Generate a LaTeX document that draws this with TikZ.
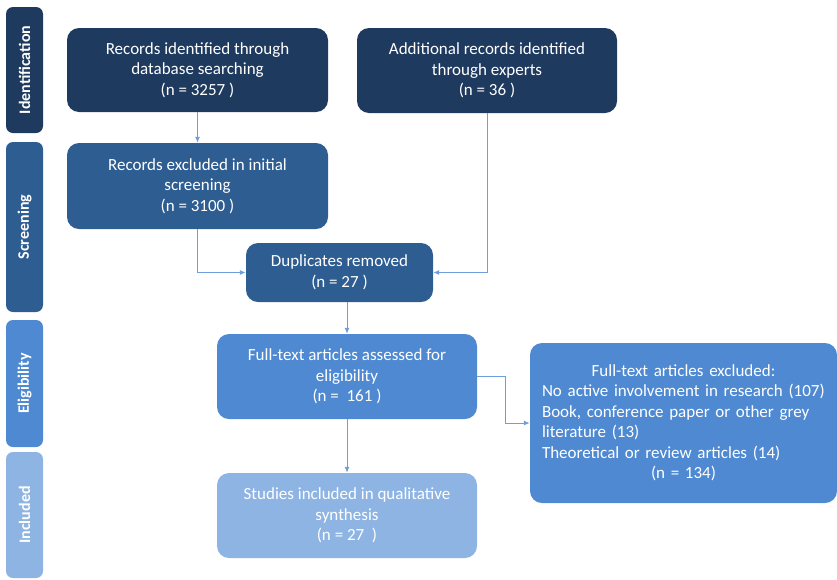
\documentclass[tikz,border=0pt]{standalone}
\usepackage{fontspec}
\setmainfont{Carlito}
\usetikzlibrary{arrows.meta}
\definecolor{navy}{HTML}{1F3A5F}
\definecolor{midblue}{HTML}{2E5D92}
\definecolor{brightblue}{HTML}{4E89D2}
\definecolor{paleblue}{HTML}{8EB4E3}
\definecolor{linkblue}{HTML}{6C9FDB}
\begin{document}
\begin{tikzpicture}[x=1pt, y=-1pt,
	stagebox/.style = {rectangle, rounded corners=12pt, text=white, align=center, inner sep=2pt, font=\fontsize{17}{20.5}\selectfont},
	phasebar/.style = {rectangle, rounded corners=7pt, text=white, rotate=90, minimum height=37pt, inner sep=0pt, font=\fontsize{16}{18}\selectfont\bfseries},
	link/.style = {draw=linkblue, line width=1pt, -{Latex[length=6pt,width=5pt]}}]
		\useasboundingbox (0,0) rectangle (837,579);
		\node [phasebar, fill=navy, minimum width=126pt](ident) at (24.5,70) {Identification};
		\node [phasebar, fill=midblue, minimum width=170pt](screen) at (24.5,227) {Screening};
		\node [phasebar, fill=brightblue, minimum width=127pt](elig) at (24.5,383.5) {Eligibility};
		\node [phasebar, fill=paleblue, minimum width=126pt](incl) at (24.5,515) {Included};
		\node [stagebox, fill=navy, minimum width=261pt, minimum height=84pt](database) at (197.5,70) {Records identified through\\database searching\\(n = 3257 )};
		\node [stagebox, fill=navy, minimum width=260pt, minimum height=85pt](experts) at (487,70.5) {Additional records identified\\through experts\\(n = 36 )};
		\node [stagebox, fill=midblue, minimum width=261pt, minimum height=86pt](excluded) at (197.5,186) {Records excluded in initial\\screening\\(n = 3100 )};
		\node [stagebox, fill=midblue, minimum width=187pt, minimum height=59pt](duplicates) at (339.5,272.5) {Duplicates removed\\(n = 27 )};
		\node [stagebox, fill=brightblue, minimum width=260pt, minimum height=85pt](fulltext) at (347,376.5) {Full-text articles assessed for\\eligibility\\(n =\ \ 161 )};
		\node [stagebox, fill=brightblue, minimum width=307pt, minimum height=160pt, text width=283pt, align=left](reasons) at (683.5,423) {\makebox[\linewidth]{Full-text articles excluded:}\\No active involvement in research\ (107)\\Book, conference paper or other grey\\literature (13)\\Theoretical or review articles (14)\\\makebox[\linewidth]{(n = 134)}};
		\node [stagebox, fill=paleblue, minimum width=260pt, minimum height=85pt](studies) at (347,515.5) {Studies included in qualitative\\synthesis\\(n = 27\ \ )};
		\draw [link] (database) -- (excluded);
		\draw [link] (excluded.south) |- (duplicates.west);
		\draw [link] (experts.south) |- (duplicates.east);
		\draw [link] (duplicates.south -| fulltext.north) -- (fulltext.north);
		\draw [link] (fulltext) -- (studies);
		\draw [link] (fulltext.east) -- (505,376.5) |- (reasons.west);
		\end{tikzpicture}
\end{document}
